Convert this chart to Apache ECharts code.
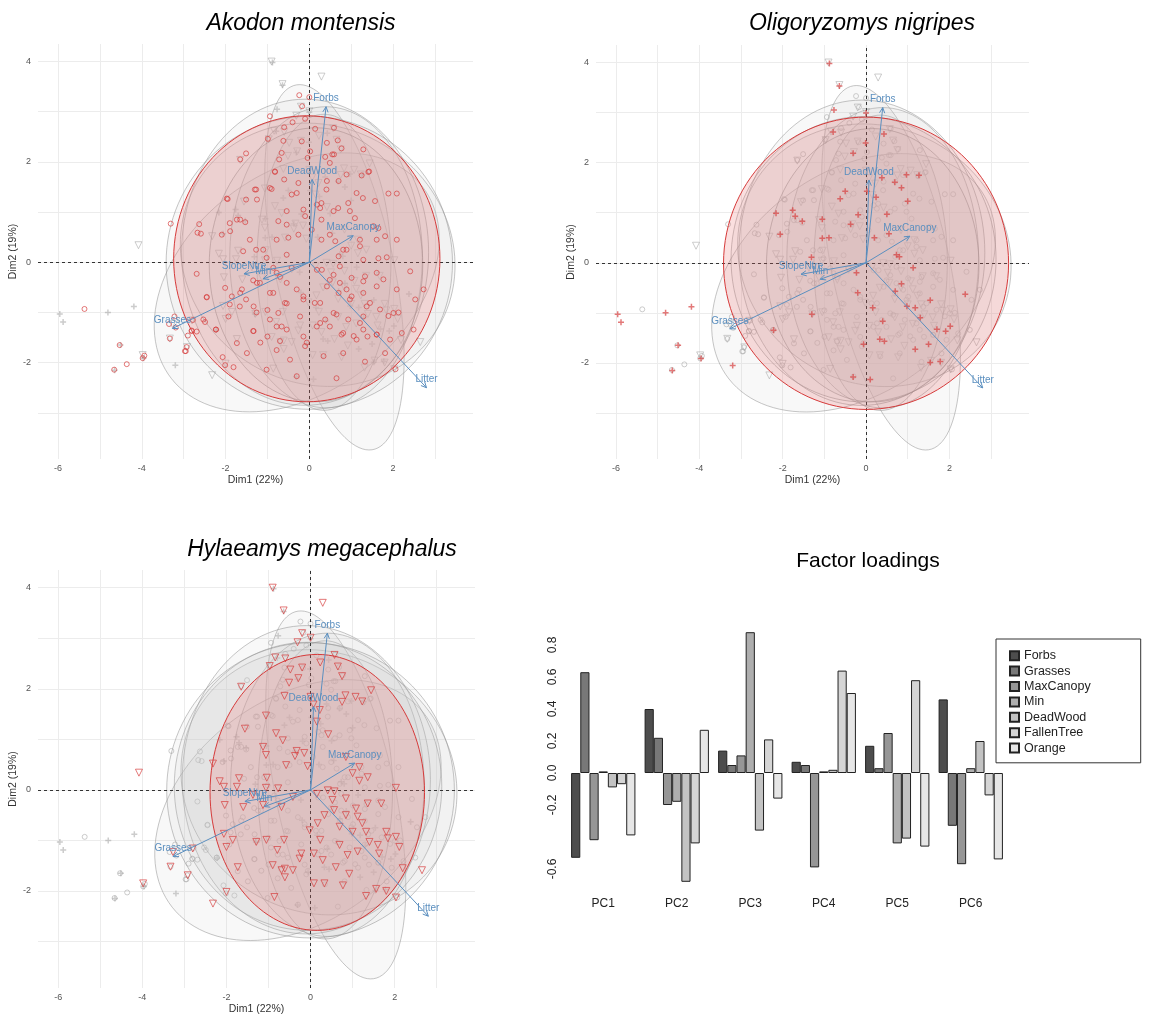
<!DOCTYPE html>
<html>
<head>
<meta charset="utf-8">
<title>PCA biplots and factor loadings</title>
<script src="https://cdn.jsdelivr.net/npm/echarts@6/dist/echarts.min.js"></script>
<style>
  html, body { margin: 0; background: #fff; }
  #main { width: 1149px; height: 1017px; }
</style>
</head>
<body>
<div id="main"></div>
<script>
// ---- factor loadings (bar panel) ----
const pcLabels = ["PC1", "PC2", "PC3", "PC4", "PC5", "PC6"];
const loadingNames = ["Forbs", "Grasses", "MaxCanopy", "Min", "DeadWood", "FallenTree", "Orange"];
const forbs = [-0.53, 0.40, 0.14, 0.07, 0.17, 0.46];
const grasses = [0.63, 0.22, 0.05, 0.05, 0.03, -0.33];
const maxCanopy = [-0.42, -0.20, 0.11, -0.59, 0.25, -0.57];
const minVals = [0.01, -0.18, 0.88, 0.01, -0.44, 0.03];
const deadWood = [-0.09, -0.68, -0.36, 0.02, -0.41, 0.20];
const fallenTree = [-0.07, -0.44, 0.21, 0.64, 0.58, -0.14];
const orange = [-0.39, 0.27, -0.16, 0.50, -0.46, -0.54];
const loadingSeries = [forbs, grasses, maxCanopy, minVals, deadWood, fallenTree, orange];
const barColors = ["#4d4d4d", "#787878", "#969696", "#aeaeae", "#c3c3c3", "#d5d5d5", "#e6e6e6"];
const loadingTicks = ["0.8", "0.6", "0.4", "0.2", "0.0", "-0.2", "-0.6"];

// ---- variable arrows (PCA loadings on Dim1/Dim2) ----
const arrowNames = ["Forbs", "DeadWood", "MaxCanopy", "SlopeNtre", "Min", "Grasses", "Litter"];
const arrowX = [0.40, 0.07, 1.05, -1.56, -1.10, -3.27, 2.80];
const arrowY = [3.10, 1.65, 0.53, -0.23, -0.33, -1.32, -2.50];

// ---- concentration ellipses: [cx, cy, a, b, angle] ----
const akodonEllipse = [-0.06, 0.07, 3.18, 2.85, 0];
const oligoEllipse = [0.0, -0.01, 3.42, 2.92, 0];
const hylaeaEllipse = [0.16, -0.05, 2.55, 2.73, 0];
const otherEllipses = [
  [0.6, -0.1, 3.75, 1.4, 105],
  [-0.3, -0.4, 3.6, 2.3, 25],
  [0.2, 0.15, 3.3, 2.6, -10],
  [0.35, 0.0, 1.6, 2.95, 0],
  [0.4, 0.1, 2.3, 3.0, 0],
  [-0.1, 0.2, 2.95, 3.05, 0]
];

// ---- individuals (Dim1, Dim2) ----
const akodonPts = [
  [-0.24,3.33],[0.0,3.29],[-0.17,3.11],[-0.94,2.91],[-0.1,2.86],[-0.6,2.69],[-0.4,2.79],[0.59,2.68],[0.14,2.66],[0.68,2.43],
  [0.42,2.38],[0.77,2.27],[-0.18,2.41],[-0.62,2.42],[-0.99,2.46],[0.38,2.1],[0.55,2.15],[-1.65,2.05],[-1.51,2.17],[-0.82,1.81],
  [1.43,1.81],[1.25,1.73],[1.89,1.37],[-1.3,1.45],[-1.97,1.27],[-2.63,0.76],[-2.67,0.59],[-2.59,0.57],[-3.31,0.77],[1.28,1.28],
  [-0.82,1.8],[-0.6,1.65],[-1.27,1.45],[-0.9,1.46],[-0.42,1.35],[-0.3,1.38],[-1.95,1.26],[-1.51,1.25],[0.59,2.15],[1.41,1.8],
  [2.09,1.37],[1.57,1.22],[0.97,1.02],[0.69,1.08],[0.18,1.15],[-0.1,0.92],[-0.54,0.75],[-0.74,0.82],[-1.73,0.85],[-1.53,0.8],
  [-1.9,0.78],[-2.09,0.55],[-1.58,0.22],[-1.27,0.25],[-0.78,0.45],[-0.54,0.15],[-1.02,0.09],[-0.86,-0.11],[-0.42,-0.11],[-0.7,-0.29],
  [-1.34,-0.36],[-2.69,-0.23],[-2.45,-0.69],[-1.51,-0.74],[-1.93,-1.08],[-2.23,-1.34],[-1.81,-2.09],[-1.34,-1.37],[-1.0,-1.48],[-0.78,-1.75],
  [-0.3,-2.27],[-1.0,-0.95],[-0.74,-1.01],[-0.54,-0.82],[-0.66,-1.28],[-0.14,-0.68],[0.13,-0.81],[0.38,-1.14],[-0.1,-1.67],[0.34,-1.87],
  [0.81,-1.81],[0.65,-2.31],[1.13,-1.54],[1.39,-1.48],[1.61,-1.44],[1.21,-1.21],[1.45,-0.81],[0.97,-0.74],[0.49,-0.35],[0.73,-0.41],
  [0.89,-0.54],[1.29,-0.61],[1.33,-0.28],[1.61,-0.48],[1.77,-0.34],[1.85,0.1],[1.65,0.08],[1.29,0.05],[0.81,0.25],[1.21,0.45],
  [1.21,0.32],[0.49,0.55],[0.29,0.45],[0.29,0.85],[2.09,-0.54],[2.13,-1.0],[1.89,-1.07],[1.93,-1.54],[2.21,-1.41],[2.49,-1.34],
  [1.81,-1.81],[1.33,-1.98],[2.06,-2.13],[0.65,-1.04],[0.18,-1.28],[-0.14,-1.48],[0.49,-1.28],[0.81,-1.41],[1.29,-1.08],[0.73,-0.08],
  [0.18,-0.15],[-0.54,-0.41],[-1.18,-0.41],[-1.61,-0.54],[-2.01,-0.51],[-0.86,-0.61],[-1.26,-1.0],[-1.66,-0.88],[-1.9,-0.84],[-2.53,-1.14],
  [-2.81,-1.37],[-2.97,-1.77],[-1.73,-1.61],[-1.49,-1.81],[-0.78,-1.28],[-0.46,-1.94],[-1.02,-2.14],[0.29,1.18],[0.41,1.45],[-0.26,1.58],
  [-0.66,2.18],[0.02,2.21],[1.29,2.25],[0.49,1.98],[0.89,1.75],[1.13,1.38],[1.65,0.68],[2.09,0.45],[2.41,-0.18],[2.73,-0.54],
  [2.53,-0.74],[1.61,0.45],
  [-5.37,-0.93],[-4.53,-1.65],[-4.66,-2.14],[-4.36,-2.03],[-3.98,-1.91],[-3.94,-1.86],[-3.33,-1.52],[-2.93,-1.69],[-2.95,-1.77],[-3.22,-1.08],
  [-3.35,-1.23],[-3.19,-1.3],[-2.9,-1.46],[-2.78,-1.15],[-2.81,-1.36],[-2.69,-1.38],[-2.49,-1.19],[-2.23,-1.34],[-2.45,-0.7],[-2.07,-1.89],
  [-2.01,-2.05],
  [-0.72,2.05],[-0.04,2.08],[0.42,1.62],[0.7,1.62],[0.26,1.08],[0.58,1.02],[0.93,1.18],[1.09,0.88],[1.53,0.72],[1.81,0.52],
  [-0.5,0.49],[-0.26,0.55],[0.06,0.65],[0.62,0.42],[0.89,0.25],[0.7,0.12],[0.3,-0.15],[0.58,-0.25],[1.01,-0.31],[1.29,-0.38],
  [1.61,-0.21],[0.42,-0.48],[0.7,-0.61],[1.01,-0.68],[1.37,-0.88],[1.69,-0.94],[2.01,-1.01],[0.26,-0.81],[0.58,-1.01],[0.93,-1.14],
  [1.29,-1.34],[1.61,-1.44],[0.77,-1.44],[1.06,-1.47],[0.26,-1.21],[-0.22,-1.08],[-0.58,-0.81],[-0.94,-0.61],[-1.25,-0.41],[-1.65,-0.61],
  [-1.85,-0.68],[-1.33,-0.88],[-0.94,-1.14],[-0.54,-1.34],[-1.33,-1.37],[-0.7,-1.57],[-1.17,-1.6],[-0.06,-1.6],[-0.3,-0.54],[-0.14,-0.74],
  [-0.78,-0.21],[-1.1,0.25],[-1.42,0.45],[-1.65,0.85],[-1.89,0.62],[-1.25,1.25],[-0.94,1.48],[-0.54,1.02],[-0.14,1.05]
];
const oligoPts = [
  [-0.88,3.98],[-0.64,3.53],[-0.77,3.05],[0.0,2.99],[-0.79,2.61],[-0.01,2.39],[-0.31,2.19],[0.97,1.76],[1.27,1.75],[0.69,1.61],
  [-2.16,0.99],[-1.76,1.05],[-1.7,0.93],[-1.53,0.83],[0.02,1.43],[0.24,1.31],[1.0,1.23],[-2.06,0.57],[-0.19,0.96],[0.55,0.58],
  [0.2,0.5],[-1.05,0.49],[-0.89,0.5],[-0.37,0.77],[-1.31,0.11],[0.73,0.16],[0.8,0.12],[1.13,-0.1],[-0.23,-0.2],[0.7,-0.57],
  [0.85,-0.42],[2.38,-0.63],[-1.3,-1.03],[-0.2,-0.6],[0.16,-0.9],[0.4,-1.17],[0.98,-0.87],[1.18,-0.9],[1.3,-1.1],[1.54,-0.75],
  [2.02,-1.27],[1.91,-1.37],[1.7,-1.33],[0.33,-1.53],[0.44,-1.57],[-0.06,-1.63],[1.18,-1.73],[1.5,-1.63],[1.78,-1.97],[1.54,-1.99],
  [-0.31,-2.28],[0.1,-2.33],[-2.22,-1.35],[-1.05,0.87],[0.85,1.5],[0.38,1.7],[-0.62,1.28],[-0.5,1.43],[0.5,0.97],[0.43,2.57],
  [-5.96,-1.03],[-5.88,-1.19],[-4.81,-1.0],[-4.19,-0.88],[-4.51,-1.65],[-4.65,-2.15],[-3.96,-1.91],[-3.2,-2.05]
];
const hylaeaPts = [
  [-0.9,4.0],[0.29,3.7],[-0.64,3.55],[-0.2,3.1],[-0.31,2.92],[0.0,3.01],[-0.84,2.62],[-0.6,2.6],[-0.97,2.45],[-0.48,2.38],
  [-0.2,2.42],[0.23,2.52],[0.57,2.67],[0.65,2.44],[0.75,2.25],[-1.65,2.04],[-0.51,2.12],[-0.29,2.21],[-0.62,1.86],[0.83,1.87],
  [1.07,1.84],[1.23,1.75],[1.44,1.97],[0.0,1.84],[0.07,1.69],[0.75,1.74],[0.22,1.58],[-1.06,1.47],[0.15,1.35],[0.42,1.1],
  [-0.82,1.12],[-0.66,0.98],[-0.33,0.77],[-1.06,0.69],[-0.58,0.49],[-0.37,0.67],[-0.15,0.73],[-0.07,0.47],[-1.04,0.24],[-1.06,0.04],
  [-0.77,0.03],[-2.16,0.17],[-2.06,0.06],[-1.75,0.06],[-2.04,-0.3],[-1.6,-0.34],[-1.13,-0.3],[-1.37,-0.1],[-0.69,-0.34],[-0.42,-0.14],
  [0.15,-0.08],[0.41,-0.01],[0.57,-0.03],[0.84,-0.17],[1.16,0.18],[1.36,0.25],[1.0,0.33],[1.16,0.45],[0.84,0.65],[2.03,0.04],
  [1.68,-0.27],[1.36,-0.27],[1.08,-0.37],[0.52,-0.2],[0.56,-0.4],[0.33,-0.5],[0.84,-0.5],[1.12,-0.53],[1.23,-0.66],[1.32,-0.83],
  [1.0,-0.83],[0.69,-0.73],[0.17,-0.66],[-0.02,-0.8],[0.23,-0.99],[0.69,-1.09],[0.88,-1.29],[1.12,-1.22],[1.4,-1.03],[1.84,-0.96],
  [1.8,-0.83],[2.03,-0.93],[2.11,-1.13],[1.6,-1.09],[1.63,-1.26],[2.19,-1.55],[2.65,-1.59],[1.56,-1.96],[1.8,-2.0],[1.32,-2.1],
  [2.03,-2.13],[0.92,-1.66],[0.6,-1.53],[0.29,-1.39],[-0.26,-1.36],[-0.42,-1.59],[-0.22,-1.26],[-0.63,-0.99],[-0.79,-1.19],[-1.05,-0.99],
  [-1.29,-1.03],[-1.85,-0.99],[-1.73,-1.53],[-2.0,-1.13],[-2.06,-0.87],[-0.9,-1.49],[-0.69,-1.59],[-0.61,-1.56],[-0.86,-2.12],[0.08,-1.26],
  [0.08,-1.85],[0.33,-1.85],[0.77,-1.89],[-2.0,-2.02],[-2.32,-2.25],[-0.61,-1.73],[-1.7,0.23],[-1.13,0.85],[-1.56,1.21],[-2.32,0.52],
  [-4.08,0.34],[-3.98,-1.85],[-3.33,-1.52],[-2.92,-1.69],[-3.27,-1.23],[-2.8,-1.16]
];

// ---- panels ----
const panels = [
  { title: "Akodon montensis", focus: "A", titleX: 296, titleY: 7, grid: { left: 38, top: 44, width: 435, height: 415 } },
  { title: "Oligoryzomys nigripes", focus: "O", titleX: 857, titleY: 7, grid: { left: 596, top: 45, width: 433, height: 414 } },
  { title: "Hylaeamys megacephalus", focus: "H", titleX: 317, titleY: 533, grid: { left: 38, top: 570, width: 437, height: 418 } }
];
const xExtent = [-6.48, 3.91];
const yExtent = [-3.92, 4.35];

const RED = "#d63a3a";
const GRAY = "rgba(150,150,150,0.55)";
const BLUE = "#5b8fbf";
const FONT = "Liberation Sans";

const plusPath = "path://M3,0h2v3h3v2h-3v3h-2v-3h-3v-2h3z";

function ellipseItem(fill, stroke) {
  return function (params, api) {
    const cx = api.value(0), cy = api.value(1), a = api.value(2), b = api.value(3);
    const th = api.value(4) * Math.PI / 180;
    const pts = [];
    for (let i = 0; i < 120; i++) {
      const t = i / 120 * 2 * Math.PI;
      const x = cx + a * Math.cos(t) * Math.cos(th) - b * Math.sin(t) * Math.sin(th);
      const y = cy + a * Math.cos(t) * Math.sin(th) + b * Math.sin(t) * Math.cos(th);
      pts.push(api.coord([x, y]));
    }
    return { type: "polygon", shape: { points: pts }, style: { fill: fill, stroke: stroke, lineWidth: 1 } };
  };
}

function arrowItem(params, api) {
  const i = params.dataIndex;
  const p0 = api.coord([0, 0]);
  const p1 = api.coord([api.value(0), api.value(1)]);
  const ang = Math.atan2(p1[1] - p0[1], p1[0] - p0[0]);
  const h = 6, w = Math.PI / 7;
  const h1 = [p1[0] - h * Math.cos(ang - w), p1[1] - h * Math.sin(ang - w)];
  const h2 = [p1[0] - h * Math.cos(ang + w), p1[1] - h * Math.sin(ang + w)];
  return {
    type: "group",
    children: [
      { type: "line", shape: { x1: p0[0], y1: p0[1], x2: p1[0], y2: p1[1] }, style: { stroke: BLUE, lineWidth: 1 } },
      { type: "polyline", shape: { points: [h1, p1, h2] }, style: { stroke: BLUE, fill: null, lineWidth: 1 } },
      { type: "text", style: { text: arrowNames[i], x: p1[0], y: p1[1] - 8, align: "center", verticalAlign: "middle", fill: BLUE, font: "10px " + FONT } }
    ]
  };
}

const titles = [];
const grids = [];
const xAxes = [];
const yAxes = [];
const series = [];

const evenLabel = function (v) {
  return (Math.abs(v - Math.round(v)) < 1e-6 && Math.round(v) % 2 === 0) ? String(Math.round(v)) : "";
};

panels.forEach(function (p, k) {
  titles.push({
    text: p.title, left: p.titleX, top: p.titleY, textAlign: "center",
    textStyle: { fontFamily: FONT, fontSize: 23, fontStyle: "italic", fontWeight: "normal", color: "#000" }
  });
  grids.push(Object.assign({ outerBoundsMode: "none", containLabel: false }, p.grid));
  xAxes.push({
    type: "value", gridIndex: k, min: xExtent[0], max: xExtent[1], splitNumber: 10,
    name: "Dim1 (22%)", nameLocation: "middle", nameGap: 16,
    nameTextStyle: { fontFamily: FONT, fontSize: 10.5, color: "#333" },
    axisLine: { show: false }, axisTick: { show: false },
    axisLabel: { fontFamily: FONT, fontSize: 9, color: "#555", margin: 5, formatter: evenLabel, showMinLabel: false, showMaxLabel: false },
    splitLine: { show: true, showMinLine: false, showMaxLine: false, lineStyle: { color: "#ececec", width: 1 } }
  });
  yAxes.push({
    type: "value", gridIndex: k, min: yExtent[0], max: yExtent[1], splitNumber: 8,
    name: "Dim2 (19%)", nameLocation: "middle", nameGap: 16, nameRotate: 90,
    nameTextStyle: { fontFamily: FONT, fontSize: 10.5, color: "#333" },
    axisLine: { show: false }, axisTick: { show: false },
    axisLabel: { fontFamily: FONT, fontSize: 9, color: "#555", margin: 7, formatter: evenLabel, showMinLabel: false, showMaxLabel: false },
    splitLine: { show: true, showMinLine: false, showMaxLine: false, lineStyle: { color: "#ececec", width: 1 } }
  });

  const groups = [
    { code: "A", pts: akodonPts, symbol: "circle", size: 5, rotate: 0, open: true },
    { code: "O", pts: oligoPts, symbol: plusPath, size: 6, rotate: 0, open: false },
    { code: "H", pts: hylaeaPts, symbol: "triangle", size: 7, rotate: 180, open: true }
  ];
  groups.forEach(function (g) {
    const hot = g.code === p.focus;
    const col = hot ? "rgba(214,58,58,0.85)" : "rgba(170,170,170,0.75)";
    series.push({
      type: "scatter", xAxisIndex: k, yAxisIndex: k, data: g.pts,
      symbol: g.symbol, symbolSize: g.size, symbolRotate: g.rotate,
      z: hot ? 6 : 2, silent: true,
      itemStyle: g.open
        ? { color: "rgba(0,0,0,0)", borderColor: col, borderWidth: 1 }
        : { color: col, borderWidth: 0 }
    });
  });

  const focusEllipse = p.focus === "A" ? akodonEllipse : (p.focus === "O" ? oligoEllipse : hylaeaEllipse);
  const grayEllipses = otherEllipses.slice();
  [["A", akodonEllipse], ["O", oligoEllipse], ["H", hylaeaEllipse]].forEach(function (e) {
    if (e[0] !== p.focus) grayEllipses.push(e[1]);
  });
  series.push({
    type: "custom", xAxisIndex: k, yAxisIndex: k, z: 4, silent: true,
    renderItem: ellipseItem("rgba(200,200,200,0.13)", GRAY), data: grayEllipses
  });
  series.push({
    type: "custom", xAxisIndex: k, yAxisIndex: k, z: 5, silent: true,
    renderItem: ellipseItem("rgba(235,110,110,0.22)", RED), data: [focusEllipse]
  });
  series.push({
    type: "line", xAxisIndex: k, yAxisIndex: k, z: 7, data: [], silent: true,
    markLine: {
      silent: true, symbol: ["none", "none"], label: { show: false },
      lineStyle: { color: "#333", type: [3, 3], width: 1 },
      data: [{ xAxis: 0 }, { yAxis: 0 }]
    }
  });
  series.push({
    type: "custom", xAxisIndex: k, yAxisIndex: k, z: 8, silent: true,
    renderItem: arrowItem, data: arrowX.map(function (x, i) { return [x, arrowY[i]]; })
  });
});

// ---- bar panel ----
titles.push({
  text: "Factor loadings", left: 863, top: 546, textAlign: "center",
  textStyle: { fontFamily: FONT, fontSize: 21, fontWeight: "normal", color: "#000" }
});
grids.push({ left: 566.5, top: 629, width: 441, height: 272, outerBoundsMode: "none", containLabel: false });
xAxes.push({
  type: "category", gridIndex: 3, data: pcLabels,
  axisLine: { show: false }, axisTick: { show: false },
  axisLabel: { fontFamily: FONT, fontSize: 12, color: "#222", margin: -3 }
});
yAxes.push({
  type: "value", gridIndex: 3, min: -0.8, max: 0.9, interval: 0.2,
  axisLine: { show: false }, axisTick: { show: false }, splitLine: { show: false },
  axisLabel: {
    fontFamily: FONT, fontSize: 12, color: "#222", rotate: 90, margin: 8,
    formatter: function (v) {
      const s = v.toFixed(1);
      return loadingTicks.indexOf(s) >= 0 ? s : "";
    }
  }
});
loadingNames.forEach(function (name, i) {
  series.push({
    type: "bar", name: name, xAxisIndex: 3, yAxisIndex: 3, data: loadingSeries[i],
    barGap: "0%", barCategoryGap: "12.5%", silent: true,
    itemStyle: { color: barColors[i], borderColor: "#222", borderWidth: 1 }
  });
});

const chart = echarts.init(document.getElementById("main"), null, { renderer: "canvas" });
chart.setOption({
  animation: false,
  backgroundColor: "#fff",
  title: titles,
  grid: grids,
  xAxis: xAxes,
  yAxis: yAxes,
  legend: {
    data: loadingNames, orient: "vertical", left: 996, top: 639,
    padding: [10, 50, 8, 13], itemGap: 2, itemWidth: 9, itemHeight: 9,
    borderColor: "#333", borderWidth: 1, icon: "rect", selectedMode: false,
    textStyle: { fontFamily: FONT, fontSize: 12.5, color: "#222", lineHeight: 13.4 }
  },
  series: series
});
</script>
</body>
</html>
